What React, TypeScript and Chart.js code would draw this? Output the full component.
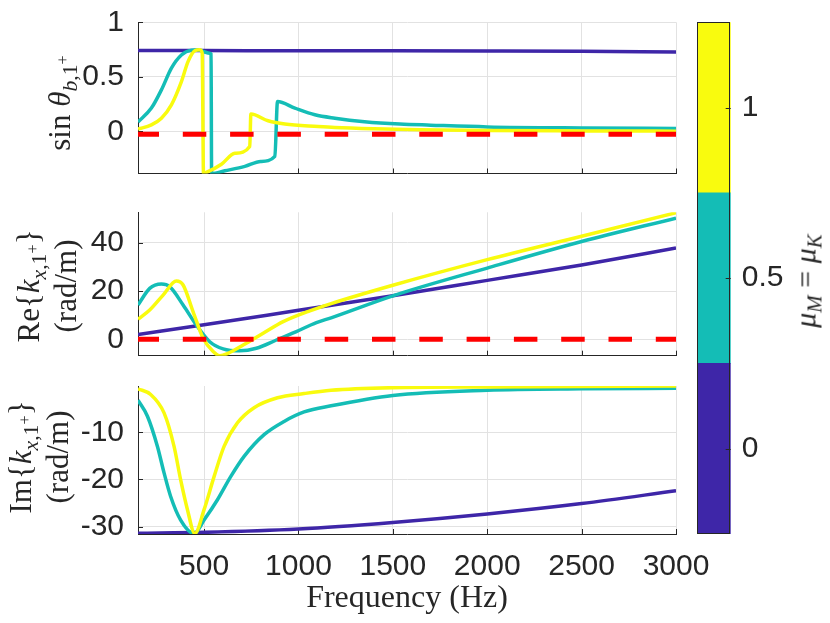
import React, { useEffect, useRef } from "react";
import { Chart, registerables } from "chart.js";

Chart.register(...registerables);

const BLUE = "#3E26A8";
const TEAL = "#14BDB6";
const YELLOW = "#F9FB0E";
const RED = "#FF0000";
const AXIS = "#262626";
const GRID = "#e2e2e2";

// frequency axis (Hz)
const freqMin = 150;
const freqMax = 3000;
const freqTicks = [500, 1000, 1500, 2000, 2500, 3000];

// panel 1 : sin(theta_b,1+)
const sinTicks = [0, 0.5, 1];
const sinLimits = [-0.385, 1];
const sinRefHz = [150, 3000];
const sinRef = [-0.025, -0.025];
const sinDarkHz = [150, 500, 1000, 1500, 2000, 2500, 3000];
const sinDark = [0.742, 0.741, 0.74, 0.739, 0.737, 0.734, 0.729];
const sinTealHz = [150, 221, 274, 327, 380, 433, 468, 500, 530, 537, 540, 610, 716, 800, 875, 889, 981, 1087, 1193, 1350, 1537, 1700, 2000, 2500, 3000];
const sinTeal = [0.086, 0.214, 0.381, 0.58, 0.7, 0.745, 0.748, 0.73, 0.717, 0.71, -0.385, -0.36, -0.32, -0.275, -0.228, 0.274, 0.214, 0.153, 0.122, 0.09, 0.068, 0.058, 0.042, 0.032, 0.027];
const sinYellowHz = [150, 221, 274, 327, 380, 415, 451, 477, 490, 497, 506, 592, 663, 742, 748, 839, 928, 1104, 1193, 1400, 1644, 2000, 2500, 3000];
const sinYellow = [0.022, 0.061, 0.122, 0.244, 0.457, 0.64, 0.74, 0.748, 0.72, -0.385, -0.38, -0.3, -0.2, -0.137, 0.159, 0.098, 0.068, 0.046, 0.037, 0.025, 0.016, 0.008, 0.005, 0.003];

// panel 2 : Re{k_x,1+} (rad/m)
const reTicks = [0, 20, 40];
const reLimits = [-6.8, 52.6];
const reRefHz = [150, 3000];
const reRef = [0, 0];
const reDarkHz = [150, 500, 1000, 1500, 2000, 2500, 3000];
const reDark = [2.0, 6.0, 12.0, 18.0, 24.4, 30.8, 37.8];
const reTealHz = [150, 212, 274, 318, 389, 459, 530, 601, 689, 777, 883, 989, 1095, 1173, 1500, 2000, 2500, 3000];
const reTeal = [14.2, 21.1, 22.9, 21.8, 14.2, 5.9, -1.0, -4.0, -4.8, -3.7, -0.3, 3.2, 6.9, 8.9, 18.0, 29.5, 40.5, 50.2];
const reYellowHz = [150, 212, 283, 353, 389, 442, 495, 548, 583, 627, 707, 813, 919, 1060, 1173, 1500, 2000, 2500, 3000];
const reYellow = [8.3, 12.1, 18.3, 24.1, 22.5, 11.4, 0.4, -5.1, -6.8, -5.8, -2.4, 2.5, 7.3, 11.8, 14.8, 22.4, 33.0, 42.7, 52.4];

// panel 3 : Im{k_x,1+} (rad/m)
const imTicks = [-30, -20, -10];
const imLimits = [-31.55, -0.2];
const imDarkHz = [150, 500, 1000, 1500, 2000, 2500, 3000];
const imDark = [-31.4, -31.2, -30.5, -29.1, -27.3, -25.1, -22.4];
const imTealHz = [150, 200, 253, 288, 323, 376, 447, 500, 571, 641, 712, 818, 924, 1030, 1173, 1500, 2000, 2500, 3000];
const imTeal = [-3.2, -6.6, -13.0, -18.6, -23.6, -28.6, -31.45, -28.6, -24.3, -19.4, -15.1, -10.5, -7.7, -5.7, -4.4, -2.2, -1.1, -0.8, -0.7];
const imYellowHz = [150, 217, 288, 341, 376, 412, 451, 500, 553, 606, 677, 765, 889, 1030, 1173, 1500, 2000, 3000];
const imYellow = [-0.8, -2.0, -5.9, -13.0, -20.1, -26.4, -31.45, -26.4, -19.4, -13.0, -8.0, -4.8, -2.7, -1.8, -1.1, -0.55, -0.4, -0.2];

// colorbar : mu_M = mu_K
const muLevels = [0, 0.5, 1];
const muColors = [BLUE, TEAL, YELLOW];
const muStep = 0.5;

const toPoints = (hz: number[], vals: number[]) => hz.map((x, i) => ({ x, y: vals[i] }));

const line = (hz: number[], vals: number[], color: string) => ({
  data: toPoints(hz, vals),
  borderColor: color,
  borderWidth: 3.5,
  pointRadius: 0,
  cubicInterpolationMode: "monotone",
});

const refLine = (hz: number[], vals: number[]) => ({
  data: toPoints(hz, vals),
  borderColor: RED,
  borderWidth: 5,
  borderDash: [18.5, 28.8],
  borderCapStyle: "square",
  pointRadius: 0,
});

// MATLAB style ticks pointing into the axes
const inwardTicks = {
  id: "inwardTicks",
  beforeDatasetsDraw(chart: any) {
    const { ctx, chartArea: a, scales } = chart;
    ctx.save();
    ctx.strokeStyle = AXIS;
    ctx.lineWidth = 1;
    ctx.beginPath();
    scales.x.ticks.forEach((t: any) => {
      const px = Math.round(scales.x.getPixelForValue(t.value)) + 0.5;
      ctx.moveTo(px, a.bottom);
      ctx.lineTo(px, a.bottom - 5);
    });
    scales.y.ticks.forEach((t: any) => {
      const py = Math.round(scales.y.getPixelForValue(t.value)) + 0.5;
      ctx.moveTo(a.left, py);
      ctx.lineTo(a.left + 5, py);
    });
    ctx.stroke();
    ctx.restore();
  },
};

interface PanelProps {
  top: number;
  height: number;
  padTop: number;
  padBottom: number;
  datasets: any[];
  limits: number[];
  yTicks: number[];
  showX: boolean;
}

const Panel: React.FC<PanelProps> = ({ top, height, padTop, padBottom, datasets, limits, yTicks, showX }) => {
  const canvasRef = useRef<HTMLCanvasElement>(null);

  useEffect(() => {
    if (!canvasRef.current) return;
    const chart = new Chart(canvasRef.current, {
      type: "line",
      data: { datasets },
      options: {
        animation: false,
        responsive: false,
        layout: { padding: { left: 0, right: 44, top: padTop, bottom: padBottom } },
        plugins: { legend: { display: false }, tooltip: { enabled: false } },
        scales: {
          x: {
            type: "linear",
            min: freqMin,
            max: freqMax,
            afterBuildTicks: (s: any) => {
              s.ticks = freqTicks.map((v) => ({ value: v }));
            },
            afterFit: (s: any) => {
              s.height = showX ? 89 : 0;
              s.paddingLeft = 0;
              s.paddingRight = 0;
            },
            grid: { color: GRID, drawTicks: false },
            border: { color: AXIS },
            ticks: {
              display: showX,
              padding: 15,
              color: AXIS,
              maxRotation: 0,
              autoSkip: false,
              font: { family: "Liberation Sans", size: 30 },
              callback: (v: any) => String(v),
            },
            title: {
              display: showX,
              text: "Frequency (Hz)",
              color: AXIS,
              font: { family: "Liberation Serif", size: 32 },
              padding: { top: 0, bottom: 5 },
            },
          },
          y: {
            min: limits[0],
            max: limits[1],
            afterBuildTicks: (s: any) => {
              s.ticks = yTicks.map((v) => ({ value: v }));
            },
            afterFit: (s: any) => {
              s.width = 138;
              s.paddingTop = 0;
              s.paddingBottom = 0;
            },
            grid: { color: GRID, drawTicks: false },
            border: { color: AXIS },
            ticks: {
              padding: 14,
              color: AXIS,
              font: { family: "Liberation Sans", size: 30 },
              callback: (v: any) => String(v),
            },
          },
        },
      } as any,
      plugins: [inwardTicks],
    });
    return () => chart.destroy();
  }, []);

  return (
    <canvas
      ref={canvasRef}
      width={720}
      height={height}
      style={{ position: "absolute", left: 0, top, width: 720, height }}
    />
  );
};

const colorbarFrame = {
  id: "colorbarFrame",
  afterDraw(chart: any) {
    const { ctx, chartArea: a, scales } = chart;
    ctx.save();
    ctx.strokeStyle = AXIS;
    ctx.lineWidth = 1;
    ctx.strokeRect(Math.round(a.left) + 0.5, Math.round(a.top) + 0.5, Math.round(a.right - a.left) - 1, Math.round(a.bottom - a.top) - 1);
    ctx.beginPath();
    scales.y.ticks.forEach((t: any) => {
      const py = Math.round(scales.y.getPixelForValue(t.value)) + 0.5;
      ctx.moveTo(a.right, py);
      ctx.lineTo(a.right - 5, py);
    });
    ctx.stroke();
    ctx.restore();
  },
};

const ColorBar: React.FC = () => {
  const canvasRef = useRef<HTMLCanvasElement>(null);

  useEffect(() => {
    if (!canvasRef.current) return;
    const chart = new Chart(canvasRef.current, {
      type: "bar",
      data: {
        labels: [""],
        datasets: muLevels.map((m, i) => ({
          data: [[m - muStep / 2, m + muStep / 2]],
          backgroundColor: muColors[i],
          borderWidth: 0,
          barPercentage: 1,
          categoryPercentage: 1,
          grouped: false,
        })),
      },
      options: {
        animation: false,
        responsive: false,
        layout: { padding: { left: 17.3, right: 0, top: 22.3, bottom: 26 } },
        plugins: { legend: { display: false }, tooltip: { enabled: false } },
        scales: {
          x: { display: false },
          y: {
            position: "right",
            min: muLevels[0] - muStep / 2,
            max: muLevels[muLevels.length - 1] + muStep / 2,
            afterBuildTicks: (s: any) => {
              s.ticks = muLevels.map((v) => ({ value: v }));
            },
            afterFit: (s: any) => {
              s.width = 99.3;
              s.paddingTop = 0;
              s.paddingBottom = 0;
            },
            grid: { display: false, drawTicks: false },
            border: { display: false },
            ticks: {
              padding: 11,
              color: AXIS,
              font: { family: "Liberation Sans", size: 30 },
              callback: (v: any) => String(v),
            },
          },
        },
      } as any,
      plugins: [colorbarFrame],
    });
    return () => chart.destroy();
  }, []);

  return (
    <canvas
      ref={canvasRef}
      width={150}
      height={560}
      style={{ position: "absolute", left: 680, top: 0, width: 150, height: 560 }}
    />
  );
};

const sub: React.CSSProperties = { fontSize: "0.7em", verticalAlign: "-0.3em", lineHeight: 0 };
const sup: React.CSSProperties = { fontSize: "0.75em", verticalAlign: "0.5em", lineHeight: 0 };

const RotatedLabel: React.FC<{ x: number; y: number; size?: number; children: React.ReactNode }> = ({ x, y, size = 31, children }) => (
  <div
    style={{
      position: "absolute",
      left: x,
      top: y,
      transform: "translate(-50%, -50%) rotate(-90deg)",
      fontFamily: "Liberation Serif",
      fontSize: size,
      lineHeight: "37px",
      textAlign: "center",
      whiteSpace: "nowrap",
      color: AXIS,
    }}
  >
    {children}
  </div>
);

const kx = (
  <>
    <i>k</i>
    <span style={sub}>
      <i>x</i>,1<span style={sup}>+</span>
    </span>
  </>
);

export default function App() {
  return (
    <div
      style={{
        position: "absolute",
        left: 0,
        top: 0,
        width: 830,
        height: 623,
        background: "#ffffff",
        overflow: "hidden",
      }}
    >
      <Panel
        top={0}
        height={190}
        padTop={22.3}
        padBottom={16.5}
        limits={sinLimits}
        yTicks={sinTicks}
        showX={false}
        datasets={[
          refLine(sinRefHz, sinRef),
          line(sinYellowHz, sinYellow, YELLOW),
          line(sinTealHz, sinTeal, TEAL),
          line(sinDarkHz, sinDark, BLUE),
        ]}
      />
      <Panel
        top={190}
        height={180}
        padTop={22.3}
        padBottom={14.3}
        limits={reLimits}
        yTicks={reTicks}
        showX={false}
        datasets={[
          refLine(reRefHz, reRef),
          line(reYellowHz, reYellow, YELLOW),
          line(reTealHz, reTeal, TEAL),
          line(reDarkHz, reDark, BLUE),
        ]}
      />
      <Panel
        top={370}
        height={253}
        padTop={16}
        padBottom={0}
        limits={imLimits}
        yTicks={imTicks}
        showX={true}
        datasets={[
          line(imYellowHz, imYellow, YELLOW),
          line(imTealHz, imTeal, TEAL),
          line(imDarkHz, imDark, BLUE),
        ]}
      />
      <ColorBar />

      <RotatedLabel x={59} y={103}>
        sin&nbsp;<i>θ</i>
        <span style={sub}>
          <i>b</i>,1<span style={sup}>+</span>
        </span>
      </RotatedLabel>
      <RotatedLabel x={47} y={286}>
        <div>Re{"{"}{kx}{"}"}</div>
        <div>(rad/m)</div>
      </RotatedLabel>
      <RotatedLabel x={39} y={457}>
        <div>Im{"{"}{kx}{"}"}</div>
        <div>(rad/m)</div>
      </RotatedLabel>
      <RotatedLabel x={805} y={281} size={30}>
        <i>μ</i>
        <span style={sub}>
          <i>M</i>
        </span>{" "}
        = <i>μ</i>
        <span style={sub}>
          <i>K</i>
        </span>
      </RotatedLabel>
    </div>
  );
}
